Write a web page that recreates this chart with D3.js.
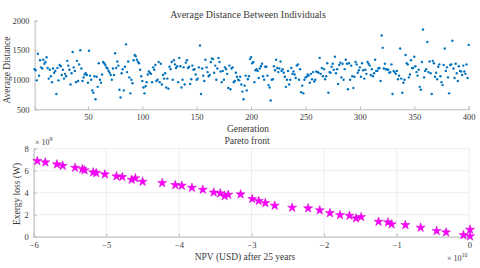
<!DOCTYPE html>
<html>
<head>
<meta charset="utf-8">
<script src="https://cdn.jsdelivr.net/npm/d3@7"></script>
<style>
  body { margin: 0; background: #fff; }
  svg text { font-family: "Liberation Serif", "Times New Roman", serif; fill: #3a3a3a; }
</style>
</head>
<body>
<svg id="chart" width="480" height="268"></svg>
<script>
var width = 480;
var height = 268;

// average distance per generation (1..400)
var avgDistance = [
  1180, 1160, 990, 1440, 1070, 1330, 1210, 1190, 1340, 1270, 1300, 1380, 1200, 1020, 1170, 1060, 960, 1190, 1120, 1150,
  760, 1200, 990, 1250, 1230, 1080, 1170, 1020, 1100, 1060, 1320, 1240, 1170, 920, 1110, 1470, 1210, 1150, 960, 1320,
  980, 1260, 1500, 1190, 980, 1040, 1090, 1110, 1080, 950, 1490, 1070, 1000, 820, 780, 1060, 670, 1050, 880, 1280,
  1000, 950, 1090, 1300, 1280, 1250, 1210, 1190, 1150, 1120, 1080, 1000, 1190, 1080, 1450, 1200, 1310, 1240, 830, 700,
  1110, 1180, 820, 1220, 1600, 1130, 1310, 1040, 770, 1000, 940, 1330, 1420, 1400, 1340, 1300, 1280, 1170, 1060, 980,
  870, 770, 890, 960, 1090, 1140, 1120, 1100, 960, 1210, 1170, 1250, 980, 1000, 1300, 960, 1270, 920, 1080, 1020,
  1110, 870, 1020, 850, 1220, 1180, 1300, 1000, 1330, 1260, 1200, 1230, 960, 1370, 1230, 870, 1000, 1210, 920, 1290,
  1330, 1200, 1220, 930, 1010, 1240, 1170, 1180, 1090, 1000, 1020, 1210, 1580, 760, 1190, 1070, 980, 1340, 1210, 1130,
  1060, 1080, 1300, 1360, 1350, 1120, 1240, 1000, 1190, 1370, 1300, 1140, 960, 1150, 1000, 1210, 1180, 1100, 860, 1240,
  840, 1190, 1210, 960, 980, 1120, 1050, 1000, 990, 1050, 920, 800, 670, 900, 1070, 820, 1010, 1060, 1350, 1380,
  1280, 1300, 960, 1160, 1180, 1150, 1030, 1190, 1230, 1270, 1060, 1000, 1220, 1220, 1070, 910, 870, 650, 1000, 1010,
  1230, 1160, 1340, 1200, 1130, 1190, 1310, 1150, 1180, 1120, 1050, 880, 1000, 1150, 920, 1000, 1200, 1100, 1140, 1090,
  1030, 1240, 1260, 1000, 1180, 790, 900, 770, 1000, 1040, 1050, 1090, 1070, 950, 1100, 1010, 1130, 970, 1000, 1140,
  1130, 1120, 1370, 1100, 1200, 1060, 1180, 1010, 1060, 1280, 780, 1130, 1120, 1220, 1270, 1170, 1390, 1110, 1180, 930,
  1250, 1290, 1040, 1270, 1000, 1180, 1340, 1270, 840, 1280, 1000, 1240, 1060, 860, 1050, 1300, 1260, 1120, 1160, 1210,
  1050, 1280, 1160, 1020, 1170, 1100, 1300, 1270, 1240, 1080, 1180, 1060, 1110, 1340, 1150, 1150, 1190, 1200, 980, 1750,
  1540, 1190, 1270, 1180, 1170, 1170, 1120, 1130, 1260, 760, 1150, 1130, 1100, 1150, 1010, 1070, 1530, 1020, 780, 950,
  1000, 1420, 1280, 1260, 1040, 1090, 1330, 1200, 1200, 1390, 1230, 1130, 1070, 1170, 880, 830, 1300, 1850, 1040, 1150,
  1180, 1640, 1130, 1310, 1110, 760, 1320, 1280, 1050, 1120, 1010, 1220, 1260, 1060, 960, 910, 1250, 1530, 1150, 1210,
  1040, 770, 1250, 1260, 1660, 1190, 1030, 1270, 1110, 980, 1230, 1150, 1140, 1080, 1240, 1140, 1100, 1260, 1030, 1590
];
var genTicks = [50, 100, 150, 200, 250, 300, 350, 400];
var distTicks = [500, 1000, 1500, 2000];

// pareto front: NPV (x 1e10 USD) and exergy loss (x 1e9 W)
var npv = [-5.95, -5.84, -5.68, -5.60, -5.43, -5.33, -5.30, -5.18, -5.14, -5.02,
  -4.86, -4.78, -4.65, -4.60, -4.50, -4.23, -4.05, -3.96, -3.82, -3.67,
  -3.52, -3.43, -3.37, -3.32, -3.15, -2.99, -2.90, -2.81, -2.68, -2.44,
  -2.22, -2.06, -1.92, -1.78, -1.65, -1.56, -1.49, -1.25, -1.12, -1.07,
  -0.88, -0.67, -0.45, -0.32, -0.08, 0.01, 0.01];
var exergy = [6.88, 6.76, 6.58, 6.45, 6.27, 6.15, 6.04, 5.85, 5.79, 5.67,
  5.49, 5.43, 5.18, 5.31, 5.00, 4.88, 4.70, 4.64, 4.45, 4.27,
  4.02, 3.94, 3.70, 3.82, 3.85, 3.43, 3.25, 3.06, 2.82, 2.64,
  2.58, 2.40, 2.15, 1.97, 1.91, 1.67, 1.79, 1.36, 1.31, 1.13,
  1.06, 0.82, 0.52, 0.40, 0.15, 0.64, 0.04];
var npvTicks = [-6, -5, -4, -3, -2, -1, 0];
var exergyTicks = [0, 2, 4, 6, 8];

var svg = d3.select("#chart");
var axisColor = "#bcbcbc";
var serif = "'Liberation Serif', 'Times New Roman', serif";

// ---------- top panel: average distance ----------
var x1 = d3.scaleLinear().domain([1, 400]).range([34.6, 468.7]);
var y1 = d3.scaleLinear().domain([500, 2000]).range([109.3, 20.7]);

var upper = svg.append("g");

upper.append("g")
    .attr("transform", "translate(0," + y1(500) + ")")
    .call(d3.axisBottom(x1).tickValues(genTicks).tickSize(-3).tickPadding(5).tickFormat(d3.format("d")))
    .call(styleAxis);
upper.append("g")
    .attr("transform", "translate(" + x1(1) + ",0)")
    .call(d3.axisLeft(y1).tickValues(distTicks).tickSize(-3).tickPadding(5).tickFormat(d3.format("d")))
    .call(styleAxis);

upper.selectAll("circle.dot")
    .data(avgDistance)
    .enter().append("circle")
    .attr("class", "dot")
    .attr("cx", function(d, i) { return x1(i + 1); })
    .attr("cy", function(d) { return y1(d); })
    .attr("r", 1.2)
    .attr("fill", "#0072bd");

upper.append("text").attr("x", 248).attr("y", 18)
    .attr("text-anchor", "middle").style("font-size", "10px")
    .text("Average Distance Between Individuals");
upper.append("text").attr("x", 248).attr("y", 132)
    .attr("text-anchor", "middle").style("font-size", "9.5px")
    .text("Generation");
upper.append("text")
    .attr("transform", "translate(10,70) rotate(-90)")
    .attr("text-anchor", "middle").style("font-size", "9.5px")
    .text("Average Distance");

// ---------- bottom panel: pareto front ----------
var x2 = d3.scaleLinear().domain([-6, 0]).range([33.7, 469.3]);
var y2 = d3.scaleLinear().domain([0, 8]).range([236.7, 148.7]);

var lower = svg.append("g");

// grid
lower.selectAll("line.vgrid").data(npvTicks).enter().append("line")
    .attr("class", "vgrid")
    .attr("x1", function(d) { return x2(d); }).attr("x2", function(d) { return x2(d); })
    .attr("y1", y2(0)).attr("y2", y2(8))
    .attr("stroke", "#e8e8e8").attr("stroke-width", 0.8);
lower.selectAll("line.hgrid").data(exergyTicks).enter().append("line")
    .attr("class", "hgrid")
    .attr("x1", x2(-6)).attr("x2", x2(0))
    .attr("y1", function(d) { return y2(d); }).attr("y2", function(d) { return y2(d); })
    .attr("stroke", "#e8e8e8").attr("stroke-width", 0.8);

lower.append("g")
    .attr("transform", "translate(0," + y2(0) + ")")
    .call(d3.axisBottom(x2).tickValues(npvTicks).tickSize(-3).tickPadding(5).tickFormat(d3.format("d")))
    .call(styleAxis);
lower.append("g")
    .attr("transform", "translate(" + x2(-6) + ",0)")
    .call(d3.axisLeft(y2).tickValues(exergyTicks).tickSize(-3).tickPadding(5))
    .call(styleAxis);

var star = d3.symbol().type(d3.symbolStar).size(26);
lower.selectAll("path.star")
    .data(npv)
    .enter().append("path")
    .attr("class", "star")
    .attr("d", star)
    .attr("transform", function(d, i) { return "translate(" + x2(d) + "," + y2(exergy[i]) + ")"; })
    .attr("fill", "#ff00ff")
    .attr("stroke", "#d000d0")
    .attr("stroke-width", 0.5);

lower.append("text").attr("x", 247).attr("y", 144)
    .attr("text-anchor", "middle").style("font-size", "9.5px")
    .text("Pareto front");
lower.append("text").attr("x", 245).attr("y", 260)
    .attr("text-anchor", "middle").style("font-size", "9.5px")
    .text("NPV (USD) after 25 years");
lower.append("text")
    .attr("transform", "translate(20,194) rotate(-90)")
    .attr("text-anchor", "middle").style("font-size", "9.5px")
    .text("Exergy loss (W)");

var e9 = lower.append("text").attr("x", 35).attr("y", 145).style("font-size", "8px");
e9.append("tspan").text("\u00d7 10");
e9.append("tspan").attr("dy", -4).style("font-size", "6px").text("9");

var e10 = lower.append("text").attr("x", 447).attr("y", 261).style("font-size", "8px");
e10.append("tspan").text("\u00d7 10");
e10.append("tspan").attr("dy", -4).style("font-size", "6px").text("10");

function styleAxis(g) {
    g.attr("font-family", serif).attr("font-size", 8.5);
    g.select(".domain").attr("stroke", axisColor);
    g.selectAll(".tick line").attr("stroke", axisColor);
    g.selectAll(".tick text")
        .style("font-family", serif)
        .style("font-size", "8.5px")
        .attr("fill", "#3a3a3a");
}
</script>
</body>
</html>
